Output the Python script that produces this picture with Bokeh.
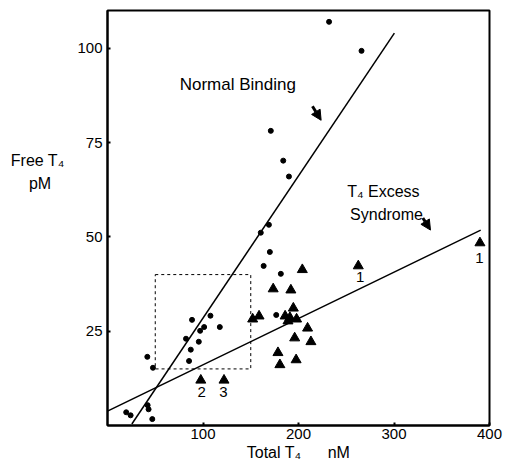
from bokeh.plotting import figure
from bokeh.models import Range1d, FixedTicker, Label, Arrow, NormalHead
from bokeh.core.properties import value
from bokeh.embed import file_html
from bokeh.resources import INLINE

# Normal binding subjects (dots): total T4 (nM), free T4 (pM)
normal_x = [232, 266, 171, 184, 190, 169, 160.5, 170, 163.5, 181.5, 176.7,
            88.5, 107.8, 101.2, 97, 117.6, 82.2, 95.6, 87.2, 85.4, 41.7, 47.6,
            19.6, 24.2, 42, 43, 46.9]
normal_y = [107, 99.3, 78.1, 70.2, 66, 53.2, 51.1, 46, 42.3, 40.2, 29.3,
            28, 29.1, 26.1, 25.1, 26.1, 23, 22.2, 20.1, 17.1, 18.2, 15.3,
            3.5, 2.7, 5.4, 4.3, 1.7]

# T4 excess syndrome subjects (triangles)
excess_x = [204, 173.5, 192, 194.6, 152, 158.7, 186, 189, 191, 198, 209.5, 196,
            213, 178.5, 180.5, 197.5, 262.6, 390, 97.7, 122]
excess_y = [41.3, 36.2, 35.9, 31.1, 28.2, 29, 29, 27.7, 28.6, 28.2, 25.8, 23.2,
            22.2, 19.3, 16.1, 17.4, 42.3, 48.4, 12, 12]

# numbered triangles
num_text = ["1", "1", "2", "3"]
num_x = [264.5, 389.5, 98.5, 121.5]
num_y = [39.3, 44.5, 8.9, 8.9]

# regression lines (end points)
normal_line_x = [25.5, 300.4]
normal_line_y = [0.4, 104]
excess_line_x = [0, 390.8]
excess_line_y = [3.8, 51.8]

# dashed box
box_left, box_right, box_bottom, box_top = [50], [150], [15], [40]

x_ticks = [100, 200, 300, 400]
y_ticks = [25, 50, 75, 100]

FONT = "Liberation Sans"
NB = "\u00a0"

p = figure(width=505, height=468, x_range=Range1d(0, 400), y_range=Range1d(0, 110),
           output_backend="svg", toolbar_location=None,
           min_border_left=107, min_border_right=16, min_border_top=10, min_border_bottom=43)

p.xgrid.grid_line_color = None
p.ygrid.grid_line_color = None
p.outline_line_color = "black"
p.outline_line_width = 2
p.outline_line_alpha = 1

p.xaxis.ticker = FixedTicker(ticks=x_ticks)
p.yaxis.ticker = FixedTicker(ticks=y_ticks)
for ax in (p.xaxis[0], p.yaxis[0]):
    ax.major_tick_in = 3
    ax.major_tick_out = 0
    ax.major_tick_line_width = 2
    ax.minor_tick_line_color = None
    ax.axis_line_width = 2
    ax.major_label_text_font = FONT
    ax.major_label_text_font_size = "15px"
    ax.major_label_text_color = "black"
    ax.axis_label_text_font = FONT
    ax.axis_label_text_font_size = "16px"
    ax.axis_label_text_font_style = "normal"
    ax.axis_label_text_color = "black"
p.xaxis.major_label_standoff = 3
p.yaxis.major_label_standoff = 5

p.xaxis.axis_label = "Total T₄" + NB * 6 + "nM"
p.xaxis.axis_label_standoff = 2

p.yaxis.axis_label = "Free T₄\n" + "pM" + NB * 3 + ("\n" + NB) * 4
p.yaxis.axis_label_orientation = "horizontal"
p.yaxis.axis_label_text_line_height = 1.35
p.yaxis.axis_label_standoff = 10

# dashed box
p.quad(left=box_left, right=box_right, bottom=box_bottom, top=box_top,
       fill_color=None, line_color="black", line_width=1, line_dash="3 3")

# lines
p.line(normal_line_x, normal_line_y, line_color="black", line_width=1.5)
p.line(excess_line_x, excess_line_y, line_color="black", line_width=1.5)

# points
p.scatter(normal_x, normal_y, marker="circle", size=5, fill_color="black", line_color="black")
p.scatter(excess_x, excess_y, marker="triangle", size=10, fill_color="black", line_color="black")

p.text(num_x, num_y, text=num_text, text_font=value(FONT), text_font_size="15px",
       text_align="center", text_baseline="middle", text_color="black")

# annotations inside the frame (data units)
def lab(x, y, t, size="16px", style="normal", align="left"):
    p.add_layout(Label(x=x, y=y, text=t, text_font=FONT, text_font_size=size,
                       text_font_style=style, text_align=align, text_baseline="middle",
                       text_color="black"))

lab(75.6, 90.3, "Normal Binding", size="17px")
lab(251, 61.9, "T₄ Excess")
lab(254, 55.8, "Syndrome")

p.add_layout(Arrow(end=NormalHead(size=10, fill_color="black", line_color="black"),
                   x_start=214.6, y_start=84.6, x_end=223.7, y_end=80.9,
                   line_width=3, line_color="black"))
p.add_layout(Arrow(end=NormalHead(size=10, fill_color="black", line_color="black"),
                   x_start=330.2, y_start=55.0, x_end=338.2, y_end=51.8,
                   line_width=3, line_color="black"))

open("out.html", "w").write(file_html(p, INLINE))
